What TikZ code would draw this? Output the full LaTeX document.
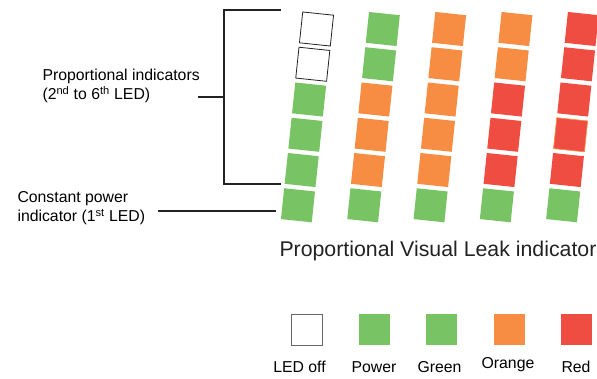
\documentclass[tikz,border=0pt]{standalone}
\usepackage{fontspec}
\setmainfont{Liberation Sans}
\usetikzlibrary{positioning}
\definecolor{led-green}{HTML}{78C363}
\definecolor{led-orange}{HTML}{F68D43}
\definecolor{led-red}{HTML}{EF4C42}
\definecolor{led-line}{HTML}{222222}

\begin{document}
\begin{tikzpicture}[x=1pt, y=-1pt,
    led/.style={minimum size=31pt, inner sep=0pt, outer sep=0pt},
    ledoff/.style={led, fill=white, draw=led-line, line width=0.8pt},
    ledgreen/.style={led, fill=led-green},
    ledorange/.style={led, fill=led-orange},
    ledred/.style={led, fill=led-red},
    label/.style={font=\fontsize{15.8}{19}\selectfont, inner sep=0pt, align=left},
    bracket/.style={draw=led-line, line width=2pt}]

    \useasboundingbox (0,0) rectangle (597,378);

    % column 1
    \begin{scope}[shift={(316.5,29)}, rotate=-6, transform shape]
    \node[ledoff] (a1) at (0,0) {};
    \node[ledoff] (a2) at (0,35.45) {};
    \node[ledgreen] (a3) at (0,70.9) {};
    \node[ledgreen] (a4) at (0,106.35) {};
    \node[ledgreen] (a5) at (0,141.8) {};
    \node[ledgreen] (a6) at (0,177.25) {};
    \end{scope}

    % column 2
    \begin{scope}[shift={(382.8,29)}, rotate=-6, transform shape]
    \node[ledgreen] (b1) at (0,0) {};
    \node[ledgreen] (b2) at (0,35.45) {};
    \node[ledorange] (b3) at (0,70.9) {};
    \node[ledorange] (b4) at (0,106.35) {};
    \node[ledorange] (b5) at (0,141.8) {};
    \node[ledgreen] (b6) at (0,177.25) {};
    \end{scope}

    % column 3
    \begin{scope}[shift={(449.1,29)}, rotate=-6, transform shape]
    \node[ledorange] (c1) at (0,0) {};
    \node[ledorange] (c2) at (0,35.45) {};
    \node[ledorange] (c3) at (0,70.9) {};
    \node[ledorange] (c4) at (0,106.35) {};
    \node[ledorange] (c5) at (0,141.8) {};
    \node[ledgreen] (c6) at (0,177.25) {};
    \end{scope}

    % column 4
    \begin{scope}[shift={(515.4,29)}, rotate=-6, transform shape]
    \node[ledorange] (d1) at (0,0) {};
    \node[ledorange] (d2) at (0,35.45) {};
    \node[ledred] (d3) at (0,70.9) {};
    \node[ledred] (d4) at (0,106.35) {};
    \node[ledred] (d5) at (0,141.8) {};
    \node[ledgreen] (d6) at (0,177.25) {};
    \end{scope}

    % column 5
    \begin{scope}[shift={(581.7,29)}, rotate=-6, transform shape]
    \node[ledred] (e1) at (0,0) {};
    \node[ledred] (e2) at (0,35.45) {};
    \node[ledred] (e3) at (0,70.9) {};
    \node[ledred, draw=led-orange, line width=0.7pt] (e4) at (0,106.35) {};
    \node[ledred] (e5) at (0,141.8) {};
    \node[ledgreen] (e6) at (0,177.25) {};
    \end{scope}

    % labels on the left
    \node[label, anchor=north west] (lblprop) at (42.3,69) {Proportional indicators\\(2\textsuperscript{nd} to 6\textsuperscript{th} LED)};
    \node[label, anchor=north west] (lblpower) at (17.3,191.5) {Constant power\\indicator (1\textsuperscript{st} LED)};

    \coordinate (brtop) at (281,10);
    \coordinate (brtopc) at (224,10);
    \coordinate (brbotc) at (224,184);
    \coordinate (brbot) at (281,184);
    \coordinate (brmid) at (224,97);
    \coordinate (proptick) at (198,97);
    \draw[bracket] (brtop) -- (brtopc) -- (brbotc) -- (brbot);
    \draw[bracket] (proptick) -- (brmid);

    \coordinate (pwrtick) at (158,210.7);
    \coordinate (pwrled) at (276,210.7);
    \draw[bracket] (pwrtick) -- (pwrled);

    \node[font=\fontsize{21.3}{25}\selectfont, inner sep=0pt, anchor=base west, text=led-line] (title) at (279.3,256.7) {Proportional Visual Leak indicator};

    % legend
    \node[led, fill=white, draw=black!60, line width=1pt] (k1) at (307,329.5) {};
    \node[ledgreen] (k2) at (374.2,329.5) {};
    \node[ledgreen] (k3) at (441.3,329.5) {};
    \node[ledorange] (k4) at (509.3,329.5) {};
    \node[ledred] (k5) at (576.8,329.5) {};

    \node[label, anchor=base] (t1) at (299.5,372) {LED off};
    \node[label, anchor=base] (t2) at (374,372) {Power};
    \node[label, anchor=base] (t3) at (439.5,372) {Green};
    \node[label, anchor=base] (t4) at (508,368.5) {Orange};
    \node[label, anchor=base] (t5) at (576,372) {Red};
\end{tikzpicture}
\end{document}
